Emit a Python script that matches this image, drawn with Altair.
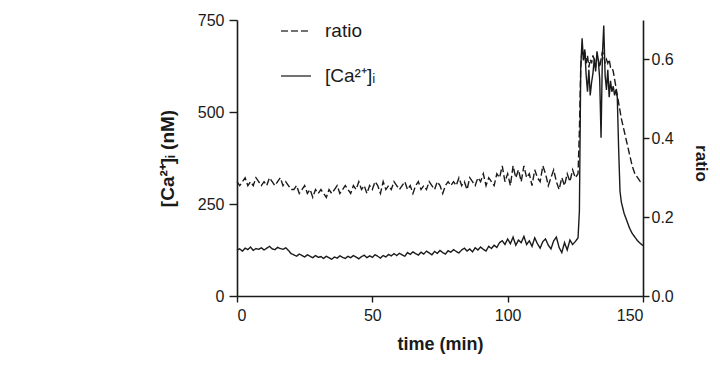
import altair as alt
import pandas as pd

# ---- data ----
base_time = list(range(0, 127))
ca_base = [125,128,122,130,126,133,124,129,127,131,125,130,135,128,126,132,129,127,131,124,
           115,112,108,114,110,106,112,108,104,110,105,107,102,108,104,100,106,103,109,105,
           102,108,104,110,106,101,107,111,104,109,105,112,108,103,110,106,113,109,115,110,
           116,112,108,118,113,120,115,111,119,114,122,117,112,121,116,124,118,114,123,119,
           126,121,117,125,130,122,128,120,131,125,133,127,122,135,129,138,132,145,150,140,
           155,142,160,138,152,145,162,140,150,135,158,142,130,148,155,138,128,150,160,132,
           118,145,125,152,140,148,158]
ratio_base = [0.29,0.28,0.29,0.30,0.28,0.29,0.28,0.30,0.29,0.28,0.29,0.28,0.30,0.29,0.28,0.29,0.30,0.28,0.29,0.28,
              0.27,0.27,0.28,0.26,0.27,0.28,0.26,0.27,0.25,0.27,0.26,0.27,0.26,0.25,0.27,0.26,0.27,0.28,0.26,0.27,
              0.28,0.27,0.26,0.28,0.27,0.29,0.27,0.28,0.26,0.28,0.27,0.29,0.28,0.26,0.29,0.27,0.28,0.27,0.29,0.28,
              0.27,0.28,0.29,0.27,0.28,0.26,0.28,0.29,0.27,0.28,0.27,0.29,0.28,0.27,0.29,0.28,0.26,0.28,0.29,0.28,
              0.29,0.28,0.30,0.28,0.29,0.27,0.30,0.29,0.28,0.30,0.29,0.31,0.28,0.30,0.29,0.28,0.31,0.30,0.33,0.29,
              0.31,0.28,0.33,0.30,0.32,0.29,0.33,0.30,0.31,0.28,0.32,0.30,0.29,0.33,0.31,0.28,0.30,0.32,0.29,0.27,
              0.30,0.28,0.31,0.29,0.32,0.30,0.31]

spike_time = [126.5,127,127.5,128,128.5,129,129.5,130,130.5,131,131.5,132,132.5,133,133.5,134,134.5,
              135,135.5,136,136.5,137,137.5,138,138.5,139,139.5,140,140.5,141,141.5,
              142,143,144,145,146,147,148,149,150]
ca_spike = [230,620,700,640,670,600,555,615,545,580,605,645,610,665,640,590,430,
            655,735,600,560,615,540,585,555,570,545,560,540,400,285,
            255,225,205,185,170,160,150,143,137]
ratio_spike = [0.42,0.58,0.63,0.60,0.62,0.59,0.61,0.58,0.60,0.59,0.61,0.60,0.58,0.61,0.60,0.58,0.60,
               0.62,0.61,0.59,0.60,0.59,0.60,0.58,0.58,0.57,0.55,0.53,0.51,0.49,0.47,
               0.45,0.42,0.39,0.36,0.33,0.31,0.30,0.29,0.29]

ca_label = "[Ca²⁺]ᵢ"
series_order = ["ratio", ca_label]

times = base_time + spike_time
df = pd.concat([
    pd.DataFrame({"time": times, "value": ca_base + ca_spike, "series": ca_label}),
    pd.DataFrame({"time": times, "value": ratio_base + ratio_spike, "series": "ratio"}),
])

FONT = "Liberation Sans"
INK = "#1a1a1a"

x_enc = alt.X("time:Q", scale=alt.Scale(domain=[0, 150], nice=False),
              axis=alt.Axis(values=[0, 50, 100, 150], title="time (min)",
                            titleFontSize=18, titleFontWeight="bold", titleY=39,
                            tickSize=6, labelPadding=5))

dash = alt.StrokeDash("series:N",
                      scale=alt.Scale(domain=series_order, range=[[7, 3], [1, 0]]),
                      legend=alt.Legend(title=None, orient="none", legendX=43, legendY=-5,
                                        symbolType="stroke", symbolSize=900,
                                        symbolStrokeWidth=1.6, symbolStrokeColor="#444",
                                        labelFontSize=19, labelFont=FONT, labelColor=INK,
                                        labelOffset=13, rowPadding=19, padding=0))

ca_line = alt.Chart(df).transform_filter(alt.datum.series == ca_label).mark_line(
    color=INK, strokeWidth=1.4).encode(
    x=x_enc,
    y=alt.Y("value:Q", scale=alt.Scale(domain=[0, 750], nice=False),
            axis=alt.Axis(values=[0, 250, 500, 750], title="[Ca²⁺]ᵢ  (nM)", orient="left",
                          titleFontSize=19, titleFontWeight="bold",
                          titleX=-60, titleY=138, tickSize=8, labelPadding=5)),
    strokeDash=dash,
)

ratio_line = alt.Chart(df).transform_filter(alt.datum.series == "ratio").mark_line(
    color=INK, strokeWidth=1.4).encode(
    x=x_enc,
    y=alt.Y("value:Q", scale=alt.Scale(domain=[0, 0.7], nice=False),
            axis=alt.Axis(values=[0, 0.2, 0.4, 0.6], format=".1f", title="ratio", orient="right",
                          titleFontSize=17, titleFontWeight="bold", titleAngle=90,
                          titleX=48, titleY=143, tickSize=6, labelPadding=2)),
    strokeDash=dash,
)

chart = alt.layer(ca_line, ratio_line).resolve_scale(y="independent").properties(
    width=406, height=276,
    autosize=alt.AutoSizeParams(type="none"),
    padding={"left": 229, "top": 12, "right": 69, "bottom": 61},
).configure_view(stroke=None).configure_axis(
    grid=False, domainColor=INK, tickColor=INK, domainWidth=1.6, tickWidth=1.4,
    labelFont=FONT, titleFont=FONT, labelFontSize=16, labelColor=INK, titleColor=INK,
)

chart.save("out.html", embed_options={"renderer": "svg", "actions": False})
